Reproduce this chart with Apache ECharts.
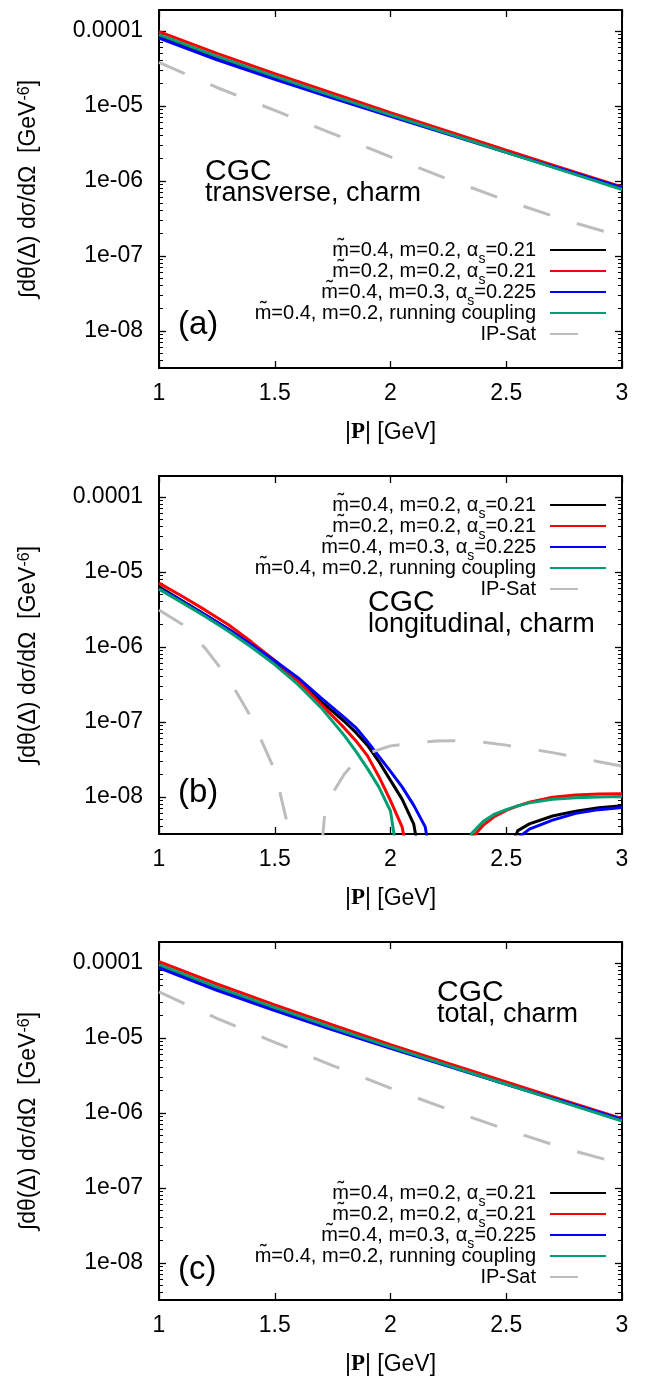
<!DOCTYPE html>
<html><head><meta charset="utf-8">
<script src="https://cdn.jsdelivr.net/npm/echarts@6/dist/echarts.min.js"></script>
<style>html,body{margin:0;padding:0;background:#fff}#c{width:648px;height:1376px}</style>
</head><body><div id="c"></div>
<script>
// ---------- data ----------
const seriesNames = [
  'm\u0303=0.4, m=0.2, α_s=0.21',
  'm\u0303=0.2, m=0.2, α_s=0.21',
  'm\u0303=0.4, m=0.3, α_s=0.225',
  'm\u0303=0.4, m=0.2, running coupling',
  'IP-Sat'
];
const seriesColors = ['#000000', '#ff0000', '#0000ff', '#009e73', '#bdbdbd'];

const xTicks = [1, 1.5, 2, 2.5, 3];
const yTickValues = [1e-8, 1e-7, 1e-6, 1e-5, 1e-4];
const yTickLabels = ['1e-08', '1e-07', '1e-06', '1e-05', '0.0001'];

// panel (a) transverse
const xA = [1, 1.25, 1.5, 1.75, 2, 2.25, 2.5, 2.75, 3];
const aBlack = [8.51e-5, 4.37e-5, 2.40e-5, 1.33e-5, 7.50e-6, 4.27e-6, 2.43e-6, 1.38e-6, 7.94e-7];
const aRed   = [9.77e-5, 5.01e-5, 2.69e-5, 1.48e-5, 8.13e-6, 4.57e-6, 2.57e-6, 1.46e-6, 8.32e-7];
const aBlue  = [8.04e-5, 4.12e-5, 2.26e-5, 1.27e-5, 7.24e-6, 4.17e-6, 2.40e-6, 1.40e-6, 8.13e-7];
const aGreen = [8.91e-5, 4.57e-5, 2.48e-5, 1.36e-5, 7.59e-6, 4.27e-6, 2.40e-6, 1.36e-6, 7.67e-7];
const aIPSat = [3.80e-5, 1.76e-5, 8.71e-6, 4.27e-6, 2.09e-6, 1.05e-6, 5.50e-7, 3.02e-7, 1.82e-7];

// panel (b) longitudinal (|value|, dips through zero)
const xB = [1, 1.1, 1.2, 1.3, 1.4, 1.5, 1.6, 1.7, 1.8, 1.85, 1.9, 1.95, 2.0, 2.05, 2.1, 2.15, 2.2, 2.25, 2.3, 2.35, 2.4, 2.45, 2.5, 2.55, 2.6, 2.7, 2.8, 2.9, 3.0];
const bBlack = [6.31e-6, 4.12e-6, 2.69e-6, 1.72e-6, 1.06e-6, 6.31e-7, 3.55e-7, 1.88e-7, 1.02e-7, 7.24e-8, 4.90e-8, 2.95e-8, 1.66e-8, 9.33e-9, 4.37e-9, 6.3e-10, 1e-12, 1e-12, 1e-12, 1e-12, 1e-12, 1e-12, 1.58e-9, 3.55e-9, 4.37e-9, 5.56e-9, 6.46e-9, 7.16e-9, 7.59e-9];
const bRed   = [7.08e-6, 4.73e-6, 3.09e-6, 1.97e-6, 1.16e-6, 6.61e-7, 3.55e-7, 1.72e-7, 8.32e-8, 5.62e-8, 3.55e-8, 1.86e-8, 8.91e-9, 3.98e-9, 6.3e-10, 1e-12, 1e-12, 1e-12, 1e-12, 2.82e-9, 4.17e-9, 5.50e-9, 6.61e-9, 7.59e-9, 8.51e-9, 9.89e-9, 1.06e-8, 1.09e-8, 1.10e-8];
const bBlue  = [6.03e-6, 4.07e-6, 2.66e-6, 1.72e-6, 1.07e-6, 6.53e-7, 3.89e-7, 2.09e-7, 1.15e-7, 8.41e-8, 5.50e-8, 3.47e-8, 2.19e-8, 1.36e-8, 7.76e-9, 3.98e-9, 5.0e-10, 1e-12, 1e-12, 1e-12, 1e-12, 1e-12, 1e-12, 2.82e-9, 3.72e-9, 4.90e-9, 6.03e-9, 6.76e-9, 7.24e-9];
const bGreen = [5.89e-6, 3.89e-6, 2.54e-6, 1.62e-6, 9.89e-7, 5.82e-7, 3.16e-7, 1.55e-7, 6.61e-8, 4.07e-8, 2.40e-8, 1.35e-8, 6.46e-9, 6.3e-10, 1e-12, 1e-12, 1e-12, 1e-12, 3.0e-10, 3.24e-9, 4.68e-9, 5.89e-9, 6.76e-9, 7.59e-9, 8.32e-9, 9.33e-9, 9.77e-9, 1.0e-8, 1.01e-8];
const xBip = [1, 1.1, 1.2, 1.3, 1.4, 1.5, 1.55, 1.6, 1.64, 1.68, 1.72, 1.76, 1.8, 1.85, 1.9, 2.0, 2.1, 2.2, 2.3, 2.4, 2.5, 2.6, 2.7, 2.8, 2.9, 3.0];
const bIPSat = [3.11e-6, 2.0e-6, 9.55e-7, 3.80e-7, 1.12e-7, 2.24e-8, 5.01e-9, 5.0e-10, 1e-12, 3.98e-10, 7.94e-9, 1.26e-8, 2.0e-8, 3.02e-8, 3.80e-8, 4.79e-8, 5.25e-8, 5.56e-8, 5.62e-8, 5.37e-8, 4.90e-8, 4.37e-8, 3.89e-8, 3.39e-8, 2.95e-8, 2.57e-8];

// panel (c) total
const xC = [1, 1.25, 1.5, 1.75, 2, 2.25, 2.5, 2.75, 3];
const cBlack = [9.15e-5, 4.57e-5, 2.46e-5, 1.34e-5, 7.51e-6, 4.27e-6, 2.43e-6, 1.39e-6, 8.0e-7];
const cRed   = [1.04e-4, 5.23e-5, 2.75e-5, 1.49e-5, 8.13e-6, 4.57e-6, 2.58e-6, 1.47e-6, 8.4e-7];
const cBlue  = [8.6e-5, 4.32e-5, 2.31e-5, 1.28e-5, 7.25e-6, 4.17e-6, 2.40e-6, 1.41e-6, 8.2e-7];
const cGreen = [9.5e-5, 4.76e-5, 2.53e-5, 1.37e-5, 7.6e-6, 4.27e-6, 2.41e-6, 1.37e-6, 7.8e-7];
const cIPSat = [4.11e-5, 1.82e-5, 8.73e-6, 4.28e-6, 2.14e-6, 1.11e-6, 6.0e-7, 3.38e-7, 2.08e-7];

// ---------- build ----------
const FONT = '"Liberation Sans", Arial, Helvetica, sans-serif';
const minorTickValues = [];
for (let e = -9; e <= -4; e++) for (let m = 2; m <= 9; m++) {
  const v = m * Math.pow(10, e);
  if (v > 3.2e-9 && v < 1.9e-4) minorTickValues.push(v);
}
const Y_MIN = 3.2e-9, Y_MAX = 1.9e-4;
const gridTops = [10, 476, 942];
const GRID_H = 358;

const pairs = (xs, ys) => xs.map((x, i) => [x, ys[i]]);
const panels = [
  [pairs(xA, aBlack), pairs(xA, aRed), pairs(xA, aBlue), pairs(xA, aGreen), pairs(xA, aIPSat)],
  [pairs(xB, bBlack), pairs(xB, bRed), pairs(xB, bBlue), pairs(xB, bGreen), pairs(xBip, bIPSat)],
  [pairs(xC, cBlack), pairs(xC, cRed), pairs(xC, cBlue), pairs(xC, cGreen), pairs(xC, cIPSat)]
];

const fmtY = v => {
  const i = yTickValues.findIndex(t => Math.abs(Math.log10(t) - Math.log10(v)) < 1e-6);
  return i >= 0 ? yTickLabels[i] : '';
};

const grid = [], xAxis = [], yAxis = [], series = [], legend = [], graphic = [];
gridTops.forEach((top, p) => {
  grid.push({ left: 159, width: 463, top: top, height: GRID_H, outerBoundsMode: 'none', containLabel: false });
  const xBase = {
    gridIndex: p, type: 'value', min: 1, max: 3, interval: 0.5,
    axisLine: { onZero: false, lineStyle: { color: '#000', width: 2 } },
    axisTick: { inside: true, length: 7, lineStyle: { color: '#000', width: 1.3 } },
    splitLine: { show: false }
  };
  xAxis.push(Object.assign({}, xBase, {
    position: 'bottom',
    axisLabel: { fontSize: 23, color: '#000', fontFamily: FONT, margin: 14,
      formatter: v => (xTicks.indexOf(v) >= 0 ? String(v) : '') },
    name: '|{b|P}| [GeV]', nameLocation: 'middle', nameGap: 53,
    nameTextStyle: { fontSize: 23, color: '#000', fontFamily: FONT,
      rich: { b: { fontSize: 23, fontWeight: 'bold', fontFamily: '"Liberation Serif", "Times New Roman", serif', color: '#000' } } }
  }));
  xAxis.push(Object.assign({}, xBase, { position: 'top', axisLabel: { show: false } }));

  const yBase = {
    gridIndex: p, type: 'log', logBase: 10, min: Y_MIN, max: Y_MAX,
    splitLine: { show: false }
  };
  yAxis.push(Object.assign({}, yBase, {
    position: 'left',
    axisLine: { onZero: false, lineStyle: { color: '#000', width: 2 } },
    axisTick: { inside: true, length: 7, customValues: yTickValues, lineStyle: { color: '#000', width: 1.3 } },
    axisLabel: { customValues: yTickValues, formatter: fmtY, fontSize: 23, color: '#000', fontFamily: FONT, margin: 16 },
    name: '∫dθ(Δ) dσ/dΩ  [GeV{sup|-6}]', nameLocation: 'middle', nameGap: 118, nameRotate: 90,
    nameTextStyle: { fontSize: 23, lineHeight: 24, color: '#000', fontFamily: FONT,
      rich: { sup: { fontSize: 16, color: '#000', fontFamily: FONT, lineHeight: 6, verticalAlign: 'top' } } }
  }));
  yAxis.push(Object.assign({}, yBase, {
    position: 'left',
    axisLine: { show: false },
    axisTick: { inside: true, length: 4, customValues: minorTickValues, lineStyle: { color: '#000', width: 1 } },
    axisLabel: { show: false }
  }));
  yAxis.push(Object.assign({}, yBase, {
    position: 'right',
    axisLine: { onZero: false, lineStyle: { color: '#000', width: 2 } },
    axisTick: { inside: true, length: 7, customValues: yTickValues, lineStyle: { color: '#000', width: 1.3 } },
    axisLabel: { show: false }
  }));
  yAxis.push(Object.assign({}, yBase, {
    position: 'right',
    axisLine: { show: false },
    axisTick: { inside: true, length: 4, customValues: minorTickValues, lineStyle: { color: '#000', width: 1 } },
    axisLabel: { show: false }
  }));

  panels[p].forEach((data, k) => {
    series.push({
      name: seriesNames[k], type: 'line', xAxisIndex: p * 2, yAxisIndex: p * 4,
      data: data, symbol: 'none', showSymbol: false, clip: true, silent: true,
      z: 2 + k,
      lineStyle: k === 4
        ? { color: seriesColors[k], width: 3, type: [28, 28] }
        : { color: seriesColors[k], width: 3 },
      itemStyle: { color: seriesColors[k] }
    });
  });
});

const legendTops = [240, 495, 1183];
legendTops.forEach(t => {
  legend.push({
    data: seriesNames, orient: 'vertical', align: 'right', right: 41, top: t, padding: 0,
    itemWidth: 56, itemHeight: 14, itemGap: -5, selectedMode: false,
    itemStyle: { opacity: 0, borderWidth: 0 },
    formatter: n => (n.indexOf('α_s') >= 0 ? n.replace('α_s', 'α{sub|s}') : '{sub|\u200b}' + n),
    textStyle: { fontSize: 20, lineHeight: 20, color: '#000', fontFamily: FONT, padding: [0, 9, 0, 0],
      rich: { sub: { fontSize: 14, height: 2, lineHeight: 4, verticalAlign: 'bottom', color: '#000', fontFamily: FONT } } }
  });
});

const texts = [
  ['CGC', 205, 172, 30], ['transverse, charm', 205, 194, 27], ['(a)', 178, 325, 33],
  ['CGC', 368, 603, 30], ['longitudinal, charm', 368, 625, 27], ['(b)', 178, 793, 33],
  ['CGC', 437, 993, 30], ['total, charm', 437, 1015, 27], ['(c)', 178, 1270, 33]
];
texts.forEach(([s, x, y, fs]) => graphic.push({
  type: 'text', x: x, y: y, z: 50,
  style: { text: s, fontSize: fs, fontFamily: FONT, fill: '#000', align: 'left', verticalAlign: 'middle' }
}));

const chart = echarts.init(document.getElementById('c'), null, { renderer: 'canvas' });
chart.setOption({
  animation: false, backgroundColor: '#fff',
  grid, xAxis, yAxis, series, legend, graphic
});
</script></body></html>
